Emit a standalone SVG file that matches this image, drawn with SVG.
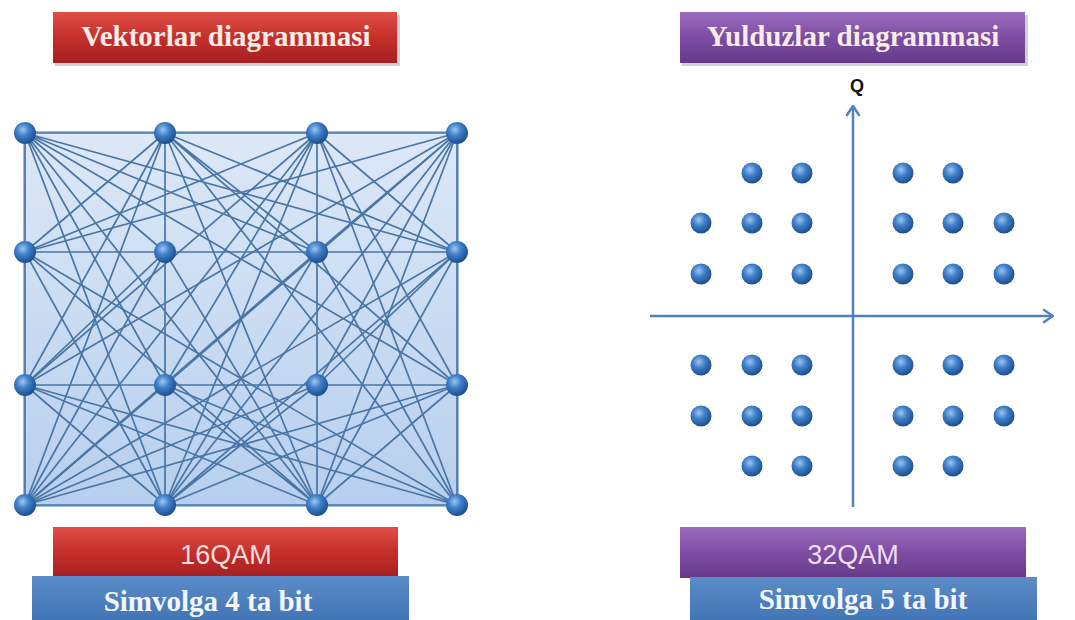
<svg xmlns="http://www.w3.org/2000/svg" width="1075" height="620" viewBox="0 0 1075 620">
<defs>
<radialGradient id="ball" cx="0.4" cy="0.35" r="0.65">
<stop offset="0" stop-color="#9cc6f0"/>
<stop offset="0.45" stop-color="#3f7fc9"/>
<stop offset="1" stop-color="#1d4f8e"/>
</radialGradient>
<linearGradient id="gridbg" x1="0" y1="0" x2="0" y2="1">
<stop offset="0" stop-color="#dde8f7"/>
<stop offset="1" stop-color="#b7cfee"/>
</linearGradient>
<linearGradient id="red" x1="0" y1="0" x2="0" y2="1">
<stop offset="0" stop-color="#de4f45"/>
<stop offset="0.5" stop-color="#c52f2b"/>
<stop offset="1" stop-color="#a51f22"/>
</linearGradient>
<linearGradient id="purple" x1="0" y1="0" x2="0" y2="1">
<stop offset="0" stop-color="#9a6cbd"/>
<stop offset="0.5" stop-color="#7d4da3"/>
<stop offset="1" stop-color="#663a88"/>
</linearGradient>
<linearGradient id="blue" x1="0" y1="0" x2="0" y2="1">
<stop offset="0" stop-color="#5a8cc8"/>
<stop offset="1" stop-color="#3f72b2"/>
</linearGradient>
<marker id="arr" viewBox="-12 -8 14 16" refX="0" refY="0" markerWidth="14" markerHeight="16" markerUnits="userSpaceOnUse" orient="auto">
<path d="M-9,-6 L0,0 L-9,6" fill="none" stroke="#4f81bd" stroke-width="2.5" stroke-linecap="round" stroke-linejoin="round"/>
</marker>
</defs>
<style>
.ttl{font-family:"Liberation Serif","Times New Roman",serif;font-weight:bold;font-size:29px;fill:#f7ece6;text-anchor:middle}
.qam{font-family:"Liberation Sans",Arial,sans-serif;font-size:27px;text-anchor:middle}
.bit{font-family:"Liberation Serif","Times New Roman",serif;font-weight:bold;font-size:29px;fill:#f4f6fa;text-anchor:middle}
.dot{fill:url(#ball)}
.edge{fill:none;stroke:#4a76a6;stroke-width:1.7}
.axis{fill:none;stroke:#4f81bd;stroke-width:2.5}
.shadow{fill:#000;opacity:0.18}
</style>
<rect width="1075" height="620" fill="#ffffff"/>

<g id="title-vektorlar">
<rect class="shadow" x="55" y="15" width="345" height="51"/>
<rect x="53" y="12" width="344" height="51" fill="url(#red)"/>
<text class="ttl" x="226" y="46">Vektorlar diagrammasi</text>
</g>
<g id="title-yulduzlar">
<rect class="shadow" x="682" y="15" width="346" height="51"/>
<rect x="680" y="12" width="345" height="51" fill="url(#purple)"/>
<text class="ttl" x="853" y="46">Yulduzlar diagrammasi</text>
</g>

<g id="grid-area">
<rect x="24" y="132" width="434" height="374" fill="url(#gridbg)" stroke="#7fa3cf" stroke-width="1.5"/>
</g>

<g id="connectors">
<path class="edge" d="M25 133H457 M25 252H457 M25 385H457 M25 505H457 M25 133V505 M165 133V505 M317 133V505 M457 133V505"/>
<path class="edge" d="M25 133L165 252 M25 133L317 252 M25 133L457 252 M25 133L165 385 M25 133L457 385 M25 133L165 505 M25 133L317 505"/>
<path class="edge" d="M165 133L25 252 M165 133L317 252 M165 133L457 252 M165 133L25 385 M165 133L457 385 M165 133L25 505 M165 133L317 505 M165 133L457 505"/>
<path class="edge" d="M317 133L25 252 M317 133L457 252 M317 133L25 385 M317 133L165 385 M317 133L457 385 M317 133L25 505 M317 133L165 505 M317 133L457 505"/>
<path class="edge" d="M457 133L25 252 M457 133L317 252 M457 133L25 385 M457 133L165 385 M457 133L317 385 M457 133L25 505 M457 133L165 505 M457 133L317 505"/>
<path class="edge" d="M25 505L165 252 M25 505L317 252 M25 505L457 252 M25 505L165 385 M25 505L317 385 M25 505L457 385"/>
<path class="edge" d="M165 505L25 252 M165 505L317 252 M165 505L457 252 M165 505L25 385 M165 505L317 385 M165 505L457 385"/>
<path class="edge" d="M317 505L25 252 M317 505L165 252 M317 505L457 252 M317 505L25 385 M317 505L165 385 M317 505L457 385"/>
<path class="edge" d="M457 505L25 252 M457 505L317 252 M457 505L25 385 M457 505L165 385"/>
<path class="edge" d="M165 252L25 385 M457 252L317 385"/>
<line id="axis-i" class="axis" x1="650" y1="316" x2="1053" y2="316" marker-end="url(#arr)"/>
<line id="axis-q" class="axis" x1="853" y1="507" x2="853" y2="106" marker-end="url(#arr)"/>
</g>

<g id="q-label">
<text x="857" y="92" font-family="Liberation Sans,Arial,sans-serif" font-weight="bold" font-size="18" fill="#111" text-anchor="middle">Q</text>
</g>

<g id="qam16-points">
<g id="p16-1-1"><circle class="dot" cx="25" cy="133" r="11"/></g>
<g id="p16-1-2"><circle class="dot" cx="165" cy="133" r="11"/></g>
<g id="p16-1-3"><circle class="dot" cx="317" cy="133" r="11"/></g>
<g id="p16-1-4"><circle class="dot" cx="457" cy="133" r="11"/></g>
<g id="p16-2-1"><circle class="dot" cx="25" cy="252" r="11"/></g>
<g id="p16-2-2"><circle class="dot" cx="165" cy="252" r="11"/></g>
<g id="p16-2-3"><circle class="dot" cx="317" cy="252" r="11"/></g>
<g id="p16-2-4"><circle class="dot" cx="457" cy="252" r="11"/></g>
<g id="p16-3-1"><circle class="dot" cx="25" cy="385" r="11"/></g>
<g id="p16-3-2"><circle class="dot" cx="165" cy="385" r="11"/></g>
<g id="p16-3-3"><circle class="dot" cx="317" cy="385" r="11"/></g>
<g id="p16-3-4"><circle class="dot" cx="457" cy="385" r="11"/></g>
<g id="p16-4-1"><circle class="dot" cx="25" cy="505" r="11"/></g>
<g id="p16-4-2"><circle class="dot" cx="165" cy="505" r="11"/></g>
<g id="p16-4-3"><circle class="dot" cx="317" cy="505" r="11"/></g>
<g id="p16-4-4"><circle class="dot" cx="457" cy="505" r="11"/></g>
</g>

<g id="qam32-points">
<g id="p32-1-2"><circle class="dot" cx="752" cy="173" r="10.5"/></g>
<g id="p32-1-3"><circle class="dot" cx="802" cy="173" r="10.5"/></g>
<g id="p32-1-4"><circle class="dot" cx="903" cy="173" r="10.5"/></g>
<g id="p32-1-5"><circle class="dot" cx="953" cy="173" r="10.5"/></g>
<g id="p32-2-1"><circle class="dot" cx="701" cy="223" r="10.5"/></g>
<g id="p32-2-2"><circle class="dot" cx="752" cy="223" r="10.5"/></g>
<g id="p32-2-3"><circle class="dot" cx="802" cy="223" r="10.5"/></g>
<g id="p32-2-4"><circle class="dot" cx="903" cy="223" r="10.5"/></g>
<g id="p32-2-5"><circle class="dot" cx="953" cy="223" r="10.5"/></g>
<g id="p32-2-6"><circle class="dot" cx="1004" cy="223" r="10.5"/></g>
<g id="p32-3-1"><circle class="dot" cx="701" cy="274" r="10.5"/></g>
<g id="p32-3-2"><circle class="dot" cx="752" cy="274" r="10.5"/></g>
<g id="p32-3-3"><circle class="dot" cx="802" cy="274" r="10.5"/></g>
<g id="p32-3-4"><circle class="dot" cx="903" cy="274" r="10.5"/></g>
<g id="p32-3-5"><circle class="dot" cx="953" cy="274" r="10.5"/></g>
<g id="p32-3-6"><circle class="dot" cx="1004" cy="274" r="10.5"/></g>
<g id="p32-4-1"><circle class="dot" cx="701" cy="365" r="10.5"/></g>
<g id="p32-4-2"><circle class="dot" cx="752" cy="365" r="10.5"/></g>
<g id="p32-4-3"><circle class="dot" cx="802" cy="365" r="10.5"/></g>
<g id="p32-4-4"><circle class="dot" cx="903" cy="365" r="10.5"/></g>
<g id="p32-4-5"><circle class="dot" cx="953" cy="365" r="10.5"/></g>
<g id="p32-4-6"><circle class="dot" cx="1004" cy="365" r="10.5"/></g>
<g id="p32-5-1"><circle class="dot" cx="701" cy="416" r="10.5"/></g>
<g id="p32-5-2"><circle class="dot" cx="752" cy="416" r="10.5"/></g>
<g id="p32-5-3"><circle class="dot" cx="802" cy="416" r="10.5"/></g>
<g id="p32-5-4"><circle class="dot" cx="903" cy="416" r="10.5"/></g>
<g id="p32-5-5"><circle class="dot" cx="953" cy="416" r="10.5"/></g>
<g id="p32-5-6"><circle class="dot" cx="1004" cy="416" r="10.5"/></g>
<g id="p32-6-2"><circle class="dot" cx="752" cy="466" r="10.5"/></g>
<g id="p32-6-3"><circle class="dot" cx="802" cy="466" r="10.5"/></g>
<g id="p32-6-4"><circle class="dot" cx="903" cy="466" r="10.5"/></g>
<g id="p32-6-5"><circle class="dot" cx="953" cy="466" r="10.5"/></g>
</g>

<g id="label-16qam">
<rect x="53" y="527" width="345" height="51" fill="url(#red)"/>
<text class="qam" x="226" y="564" fill="#fadcdc">16QAM</text>
</g>
<g id="label-4bit">
<rect x="32" y="576" width="377" height="50" fill="url(#blue)"/>
<text class="bit" x="208" y="611">Simvolga 4 ta bit</text>
</g>
<g id="label-32qam">
<rect x="680" y="527" width="346" height="51" fill="url(#purple)"/>
<text class="qam" x="853" y="564" fill="#f3dcf3">32QAM</text>
</g>
<g id="label-5bit">
<rect x="690" y="577" width="347" height="50" fill="url(#blue)"/>
<text class="bit" x="863" y="609">Simvolga 5 ta bit</text>
</g>
</svg>
